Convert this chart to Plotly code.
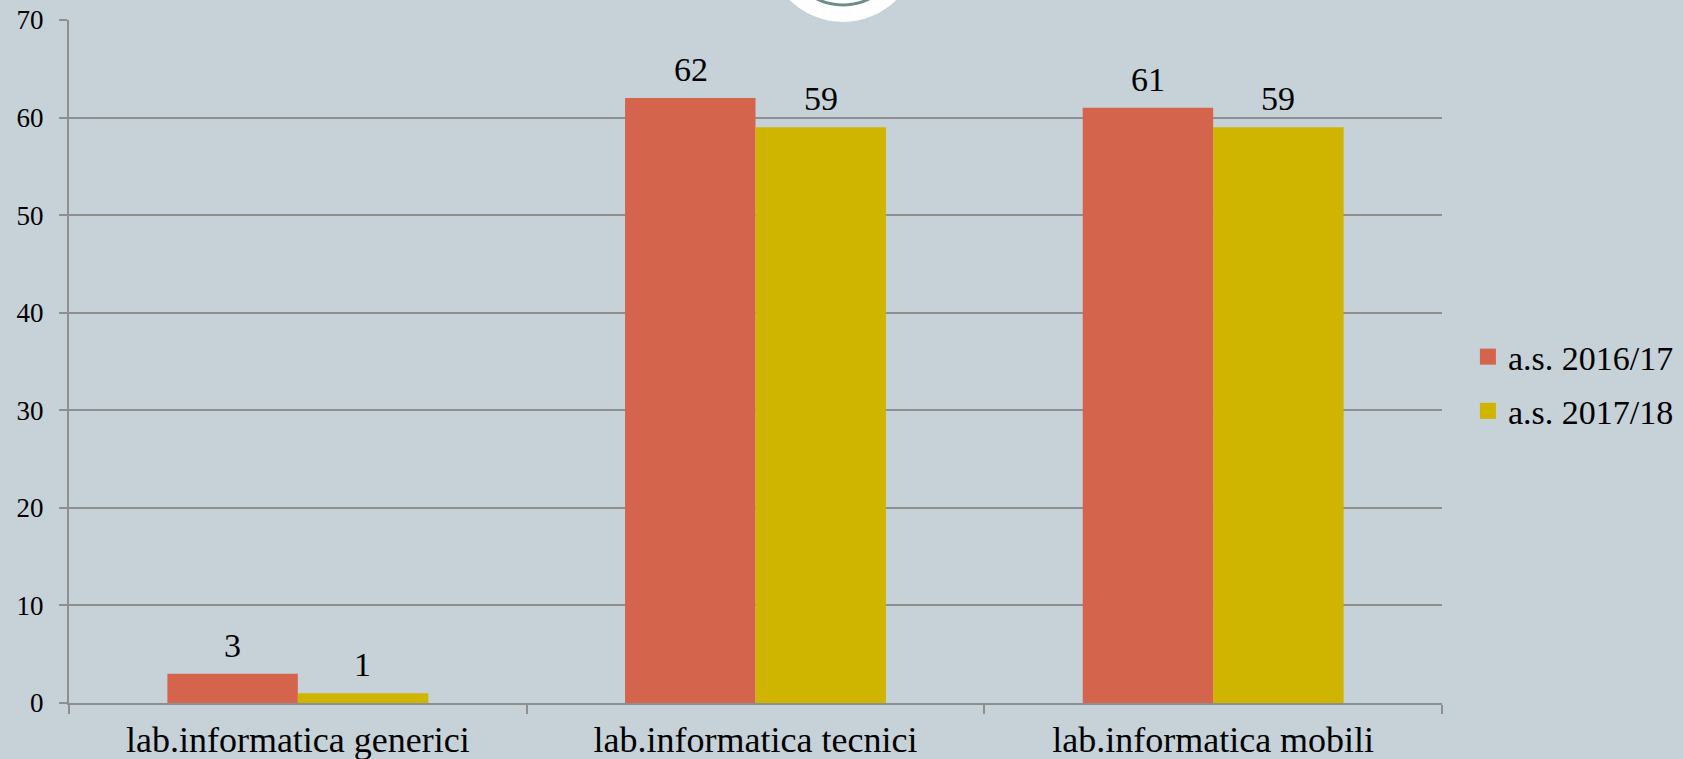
import plotly.graph_objects as go

categories = ["lab.informatica generici", "lab.informatica tecnici", "lab.informatica mobili"]
series_names = ["a.s. 2016/17", "a.s. 2017/18"]
values_2016 = [3, 62, 61]
values_2017 = [1, 59, 59]
y_ticks = [0, 10, 20, 30, 40, 50, 60, 70]

BG = "#C6D1D8"
GRID = "#8E8E8E"
FONT = "Liberation Serif, Times New Roman, serif"
colors = ["#D4644B", "#CFB400"]
label_shift = [-65, 65]

fig = go.Figure()
for i, (name, vals, col) in enumerate(zip(series_names, [values_2016, values_2017], colors)):
    fig.add_trace(go.Bar(
        x=categories, y=vals, name=name, showlegend=False,
        marker=dict(color=col, line=dict(width=0)),
    ))
    # legend entry with a larger square swatch
    fig.add_trace(go.Scatter(
        x=[None], y=[None], mode="markers", name=name, legendgroup=name,
        marker=dict(symbol="square", size=17, color=col, line=dict(width=0)),
        hoverinfo="skip",
    ))
    for c, v in zip(categories, vals):
        fig.add_annotation(x=c, y=v, text=str(v), showarrow=False,
                           xshift=label_shift[i], yshift=8, yanchor="bottom",
                           font=dict(family=FONT, size=34, color="black"))

# decorative circle at top
fig.add_shape(type="circle", xref="paper", yref="paper",
              xsizemode="pixel", ysizemode="pixel",
              xanchor=0.5637, yanchor=1.1085,
              x0=-76, x1=76, y0=-76, y1=76,
              fillcolor="white", line=dict(width=0), layer="below")
fig.add_shape(type="circle", xref="paper", yref="paper",
              xsizemode="pixel", ysizemode="pixel",
              xanchor=0.5637, yanchor=1.1085,
              x0=-59, x1=59, y0=-59, y1=59,
              fillcolor="rgba(0,0,0,0)", line=dict(width=3, color="#6A8E88"), layer="below")

fig.update_layout(
    width=1683, height=759,
    paper_bgcolor=BG, plot_bgcolor=BG,
    margin=dict(l=69, r=241, t=20, b=56, autoexpand=False),
    barmode="group", bargap=0.43, bargroupgap=0,
    font=dict(family=FONT, color="black"),
    legend=dict(xref="container", yref="container", x=0.8722, y=0.494,
                xanchor="left", yanchor="middle",
                font=dict(family=FONT, size=34, color="black"),
                bgcolor="rgba(0,0,0,0)", itemwidth=30, tracegroupgap=7,
                traceorder="grouped"),
    showlegend=True,
)
fig.update_xaxes(
    showline=True, linecolor=GRID, linewidth=2, automargin=False,
    ticks="outside", tickson="boundaries", ticklen=9, tickcolor=GRID, tickwidth=2,
    tickfont=dict(family=FONT, size=36, color="black"), ticklabelstandoff=4,
    showgrid=False,
)
fig.update_yaxes(
    range=[0, 70], tickvals=y_ticks, showgrid=True, gridcolor=GRID, gridwidth=2,
    showline=True, linecolor=GRID, linewidth=2, automargin=False,
    ticks="outside", ticklen=8, tickcolor=GRID, tickwidth=2,
    tickfont=dict(family=FONT, size=27, color="black"), ticklabelstandoff=10,
    zeroline=False,
)

fig.write_html("out.html", config={"displayModeBar": False},
               post_script="document.body.style.margin='0';document.body.style.padding='0';")
